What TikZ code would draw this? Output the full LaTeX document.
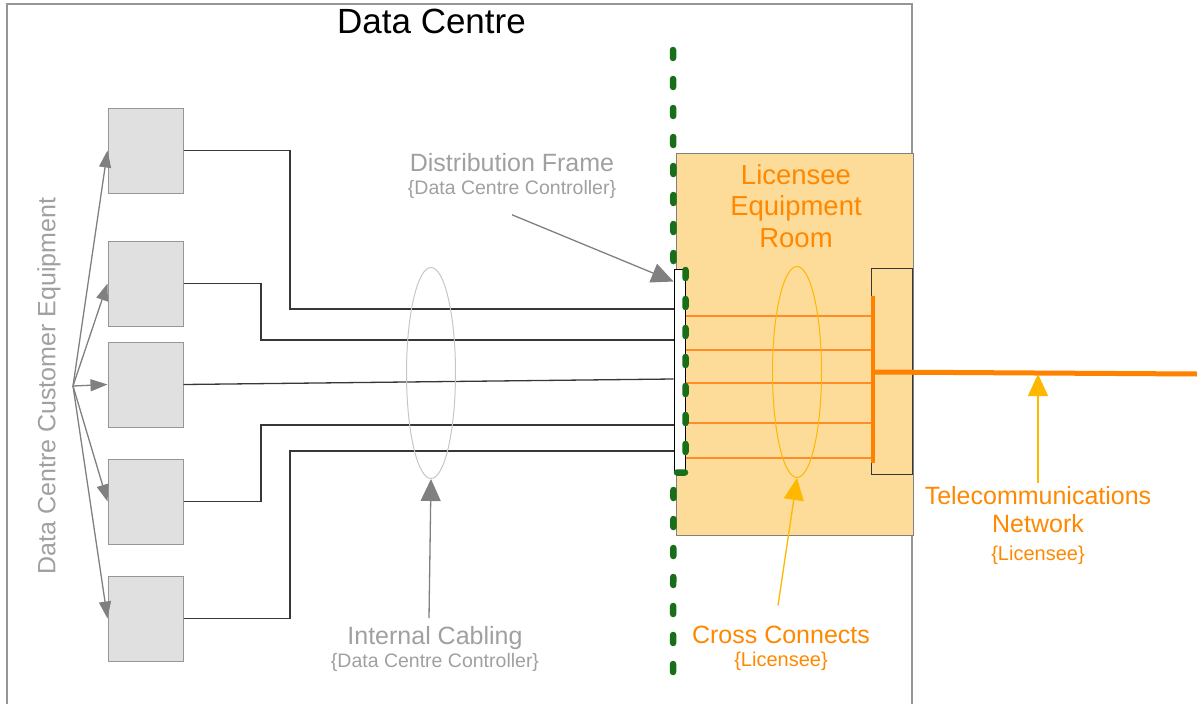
\documentclass[tikz,border=0pt]{standalone}
\usepackage{fontspec}
\setmainfont{Liberation Sans}
\usetikzlibrary{arrows.meta,shapes.geometric}

\definecolor{framegray}{RGB}{150,150,150}
\definecolor{labelgray}{RGB}{160,160,160}
\definecolor{boxgray}{RGB}{224,224,224}
\definecolor{cablegray}{RGB}{55,55,55}
\definecolor{roomfill}{RGB}{253,220,154}
\definecolor{licorange}{RGB}{255,136,0}
\definecolor{xcorange}{RGB}{255,140,40}
\definecolor{ringgold}{RGB}{255,183,0}
\definecolor{demarcgreen}{RGB}{25,110,25}

\begin{document}
\begin{tikzpicture}[x=1pt,y=-1pt,
  every node/.style={inner sep=0pt},
  eqbox/.style={draw=framegray,fill=boxgray,line width=1pt,minimum width=75pt,minimum height=85pt},
  cable/.style={draw=cablegray,line width=1.3pt},
  fanarrow/.style={draw=gray,line width=1.3pt,-{Triangle[length=17pt,width=12pt]}},
  grayarrow/.style={draw=gray,line width=1.3pt,-{Triangle[length=22pt,width=20pt]}},
  goldarrow/.style={draw=ringgold,line width=1.3pt,-{Triangle[length=22pt,width=20pt]}},
  xconn/.style={draw=xcorange,line width=1.3pt},
  ring/.style={ellipse,line width=1pt,minimum width=49pt,minimum height=211pt},
  graytext/.style={text=labelgray,align=center,font=\fontsize{25}{23}\selectfont},
  orangetext/.style={text=licorange,align=center,font=\fontsize{25}{23}\selectfont},
  demarc/.style={draw=demarcgreen,line width=6.5pt,line cap=round,dash pattern=on 8pt off 21pt}
]
\useasboundingbox (0,0) rectangle (1197,704);

% data centre outline and title
\draw[framegray,line width=1.3pt] (7,704) |- (912,4) -- (912,704);
\node (title) at (431.5,21) {\fontsize{35}{35}\selectfont Data Centre};

% customer equipment
\node[eqbox] (eq1) at (145.5,150.5) {};
\node[eqbox] (eq2) at (145.5,283.5) {};
\node[eqbox] (eq3) at (145.5,384.5) {};
\node[eqbox] (eq4) at (145.5,501.5) {};
\node[eqbox] (eq5) at (145.5,618.5) {};
\node[graytext,rotate=90] (custlabel) at (49,386) {Data Centre Customer Equipment};
\coordinate (fan) at (73,386);
\foreach \n in {1,...,5}
  \draw[fanarrow] (fan) -- (eq\n.west);

% licensee room
\node[draw=gray,fill=roomfill,line width=1pt,minimum width=237pt,minimum height=382pt] (room) at (794.5,344) {};
\node[text=licorange,align=center,font=\fontsize{27.5}{31.5}\selectfont] (roomlabel) at (796,206) {Licensee\\Equipment\\Room};

% distribution frame and cross connect panel
\node[draw=black,fill=white,line width=1pt,minimum width=11pt,minimum height=203pt] (dframe) at (679.5,370.5) {};
\node[draw=cablegray,line width=1pt,minimum width=41pt,minimum height=206pt] (xpanel) at (891.5,371) {};

% internal cabling
\draw[cable] (eq1.east) -| (290,309) -- (dframe.west |- 0,309);
\draw[cable] (eq2.east) -| (261,340) -- (dframe.west |- 0,340);
\draw[cable] (eq3.east) -- (dframe.west |- 0,379);
\draw[cable] (eq4.east) -| (261,425) -- (dframe.west |- 0,425);
\draw[cable] (eq5.east) -| (290,451) -- (dframe.west |- 0,451);

% cross connects
\coordinate (bartop) at (873,296);
\coordinate (barbot) at (873,463);
\foreach \y in {316,350,383,423,458}
  \draw[xconn] (dframe.east |- 0,\y) -- (bartop |- 0,\y);
\draw[licorange!95!red,line width=4.5pt] (bartop) -- (barbot);
\coordinate (netend) at (1197,374);
\draw[licorange!95!red,line width=5pt] (bartop |- 0,372) -- (netend);

% rings
\node[ring,draw=gray!45] (icring) at (431,373) {};
\node[ring,draw=ringgold] (ccring) at (797,372) {};

% demarcation
\draw[demarc] (673,50) -- (dframe.north west) -- (dframe.north east) -- (dframe.south east) -- (dframe.south west) -- (673,685);

% labels
\node[graytext] (dflabel) at (512,176) {Distribution Frame\\{\fontsize{19.5}{19.5}\selectfont\{Data Centre Controller\}}};
\node[graytext] (iclabel) at (435,649) {Internal Cabling\\{\fontsize{19.5}{19.5}\selectfont\{Data Centre Controller\}}};
\node[orangetext] (cclabel) at (781,648) {Cross Connects\\{\fontsize{20}{20}\selectfont\{Licensee\}}};
\node[orangetext,font=\fontsize{25}{28}\selectfont] (tclabel) at (1038,526) {Telecommunications\\Network\\{\fontsize{20}{20}\selectfont\{Licensee\}}};

\draw[grayarrow] ([yshift=-16pt]dflabel.south) -- ([yshift=-13pt]dframe.north west);
\draw[grayarrow] ([xshift=-6pt,yshift=8pt]iclabel.north) -- (icring.south);
\draw[goldarrow] ([xshift=-3pt,yshift=20pt]cclabel.north) -- (ccring.south);
\draw[goldarrow] ([yshift=4pt]tclabel.north) -- (tclabel.north |- netend);
\end{tikzpicture}
\end{document}
